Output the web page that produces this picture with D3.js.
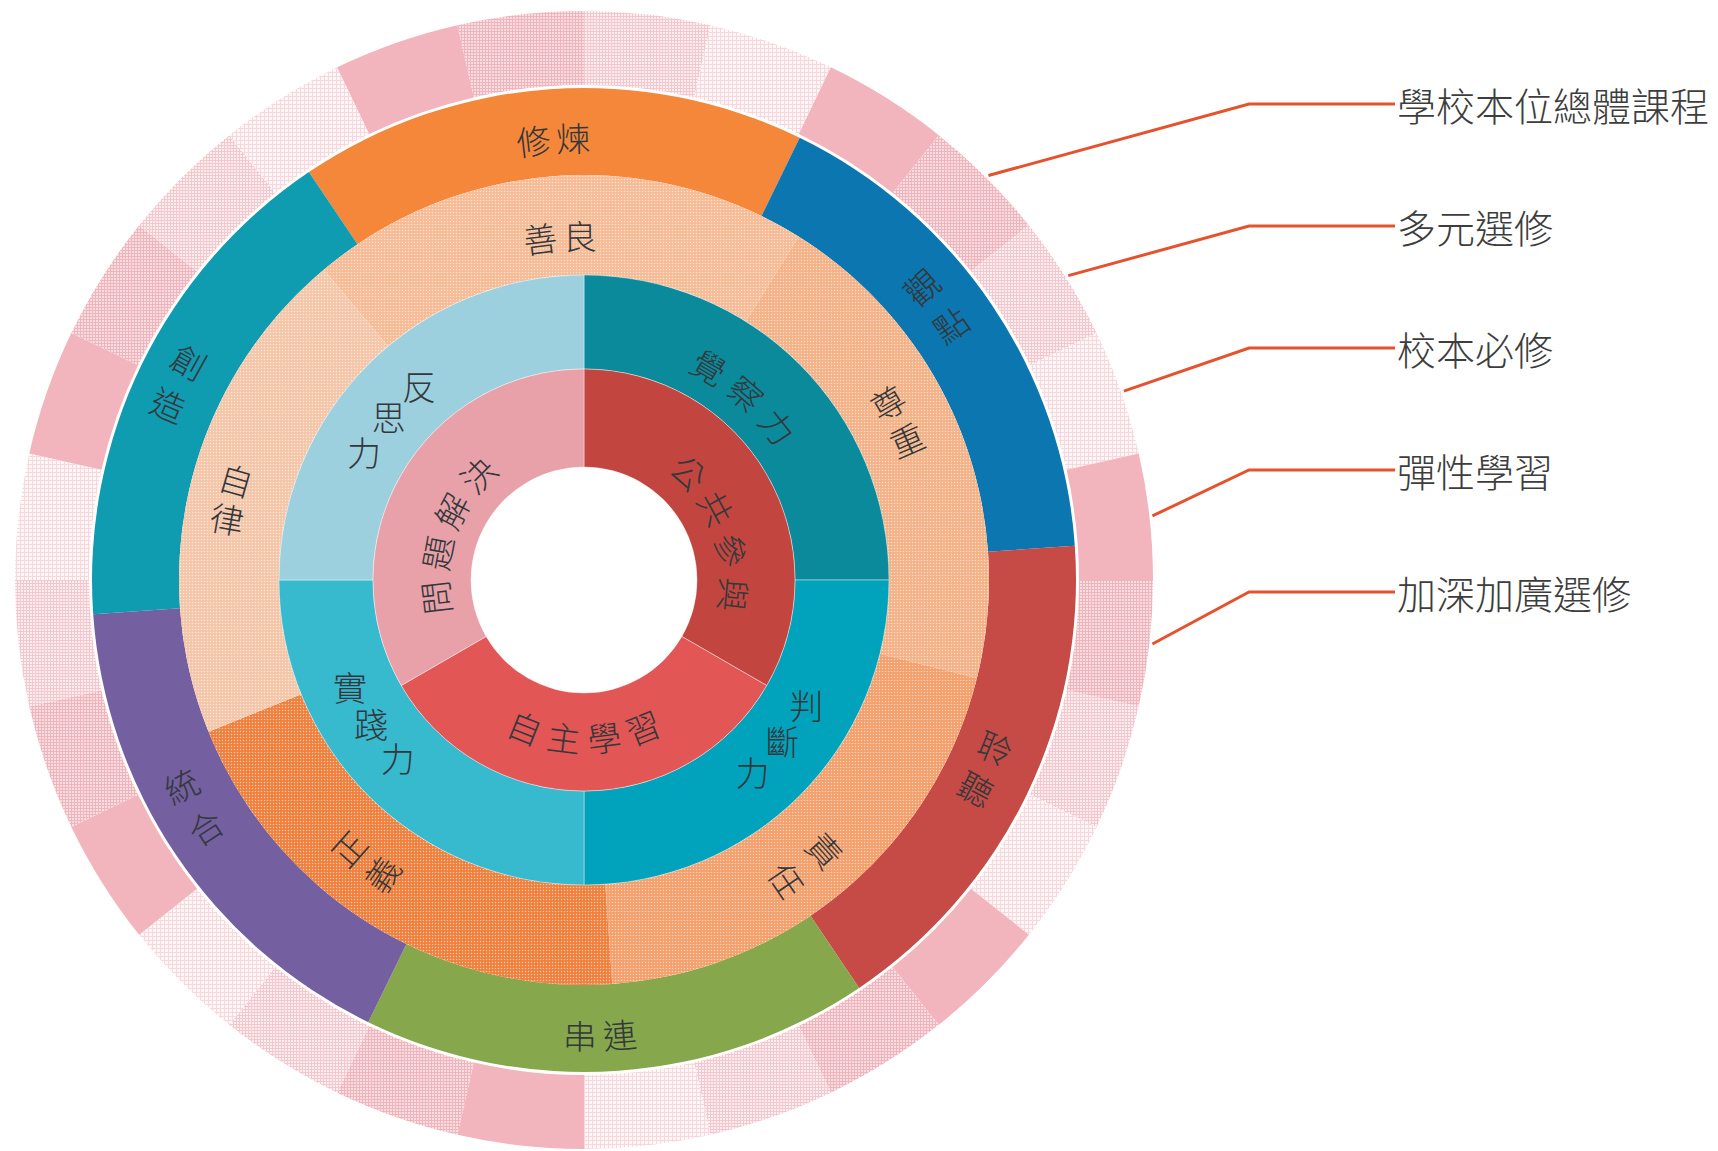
<!DOCTYPE html>
<html>
<head>
<meta charset="utf-8">
<script src="https://cdn.jsdelivr.net/npm/d3@7"></script>
<style>
  body { margin: 0; background: #fff; }
  svg { display: block; }
</style>
</head>
<body>
<div id="chart"></div>
<script>
// ---- data ----
const coreLabels = ['公共參與', '自主學習', '問題解決'];
const coreValues = [1, 1, 1];
const abilityLabels = ['覺察力', '判斷力', '實踐力', '反思力'];
const abilityValues = [1, 1, 1, 1];
const virtueLabels = ['善良', '尊重', '責任', '正義', '自律'];
const virtueValues = [1, 1, 1, 1, 1];
const actionLabels = ['修煉', '觀點', '聆聽', '串連', '統合', '創造'];
const actionValues = [1, 1, 1, 1, 1, 1];
// outer ring, 28 course blocks clockwise from 12 o'clock
const courseTypes = [
  'light', 'vlight', 'solid', 'medium', 'light', 'vlight', 'solid', 'medium',
  'light', 'vlight', 'solid', 'medium', 'light', 'vlight', 'solid', 'medium',
  'light', 'vlight', 'solid', 'medium', 'light', 'vlight', 'solid', 'medium',
  'light', 'vlight', 'solid', 'medium'
];
const legendLabels = ['學校本位總體課程', '多元選修', '校本必修', '彈性學習', '加深加廣選修'];
const legendSegments = [3, 4, 5, 6, 7];

// ---- layout / styles ----
const W = 1718, H = 1151;
const cx = 584, cy = 580;
const deg = Math.PI / 180;
const FONT = '"Noto Sans CJK TC Light", "Noto Sans CJK TC", "Noto Sans CJK SC", sans-serif';

const coreColors = ['#c2463f', '#e25656', '#e8a1a9'];
const abilityColors = ['#0b8a9c', '#00a3bb', '#37b9ce', '#9dd0de'];
const virtueColors = ['#f6bb95', '#f5b186', '#f49e69', '#f07f3b', '#f5c5a7'];
const actionColors = ['#f4873a', '#0b76b0', '#c64a45', '#86a74b', '#745fa0', '#0f9bb0'];

const labelStyle = {
  '公共參與': { mode: 'cw', shift: 10, r: 151, step: 45 },
  '自主學習': { mode: 'ccw', shift: 0, r: 158, step: 40 },
  '問題解決': { mode: 'cw', shift: -11, r: 150, step: 45 },
  '覺察力': { mode: 'cw', shift: -4, r: 248, step: 46 },
  '判斷力': { mode: 'upR', shift: -6, r: 255, step: 43 },
  '實踐力': { mode: 'upL', shift: 11, r: 257, step: 43 },
  '反思力': { mode: 'upL', shift: -5, r: 255, step: 43 },
  '善良': { mode: 'cw', shift: 0, r: 345, step: 40 },
  '尊重': { mode: 'stackR', shift: -5, r: 352, step: 42 },
  '責任': { mode: 'stackR', shift: 2, r: 362, step: 48 },
  '正義': { mode: 'stackL', shift: 6, r: 357, step: 42 },
  '自律': { mode: 'stackL', shift: -1, r: 362, step: 40 },
  '修煉': { mode: 'cw', shift: 0, r: 443, step: 40 },
  '觀點': { mode: 'stackR', shift: -4, r: 447, step: 48 },
  '聆聽': { mode: 'stackR', shift: -1, r: 444, step: 45 },
  '串連': { mode: 'ccw', shift: 2, r: 455, step: 40 },
  '統合': { mode: 'stackL', shift: 4, r: 452, step: 48 },
  '創造': { mode: 'stackL', shift: 0, r: 451, step: 48 },
};

const svg = d3.select('#chart')
  .append('svg')
    .attr('width', W)
    .attr('height', H);
const defs = svg.append('defs');

function gridPattern(id, bg, line, step) {
  const p = defs.append('pattern')
    .attr('id', id)
    .attr('patternUnits', 'userSpaceOnUse')
    .attr('width', step)
    .attr('height', step);
  p.append('rect').attr('width', step).attr('height', step).attr('fill', bg);
  p.append('path')
    .attr('d', `M0,0.5H${step}M0.5,0V${step}`)
    .attr('stroke', line)
    .attr('stroke-width', 1)
    .attr('fill', 'none');
}
function dotPattern(id, bg) {
  const p = defs.append('pattern')
    .attr('id', id)
    .attr('patternUnits', 'userSpaceOnUse')
    .attr('width', 3)
    .attr('height', 3);
  p.append('rect').attr('width', 3).attr('height', 3).attr('fill', bg);
  p.append('circle').attr('cx', 1.5).attr('cy', 1.5).attr('r', 0.75)
    .attr('fill', '#fff').attr('opacity', 0.6);
}

gridPattern('course-medium', '#f9dde1', '#eeb5bd', 3);
gridPattern('course-light', '#fdeef0', '#f2c8ce', 3);
gridPattern('course-vlight', '#fef6f7', '#f6d8dc', 4);
const courseFill = {
  solid: '#f2b4bd',
  medium: 'url(#course-medium)',
  light: 'url(#course-light)',
  vlight: 'url(#course-vlight)',
};
virtueColors.forEach((c, i) => dotPattern('virtue-' + i, c));

const body = svg.append('g')
  .attr('class', 'body')
  .attr('transform', `translate(${cx},${cy})`);

const rings = [
  { name: 'course', labels: courseTypes, values: courseTypes.map(() => 1), r0: 495, r1: 569, start: 0,
    fill: (d, i) => courseFill[courseTypes[i]], stroke: 'none' },
  { name: 'action', labels: actionLabels, values: actionValues, r0: 405, r1: 492, start: -34 * deg,
    fill: (d, i) => actionColors[i], stroke: 'none' },
  { name: 'virtue', labels: virtueLabels, values: virtueValues, r0: 305, r1: 405, start: -40 * deg,
    fill: (d, i) => `url(#virtue-${i})`, stroke: 'none' },
  { name: 'ability', labels: abilityLabels, values: abilityValues, r0: 211, r1: 305, start: 0,
    fill: (d, i) => abilityColors[i], stroke: 'rgba(255,255,255,0.5)' },
  { name: 'core', labels: coreLabels, values: coreValues, r0: 113, r1: 211, start: 0,
    fill: (d, i) => coreColors[i], stroke: 'rgba(255,255,255,0.5)' },
];

const ringArcs = {};
rings.forEach(ring => {
  const pie = d3.pie()
    .sort(null)
    .value(d => d)
    .startAngle(ring.start)
    .endAngle(ring.start + 2 * Math.PI);
  const arcs = pie(ring.values);
  ringArcs[ring.name] = arcs;
  const arc = d3.arc().innerRadius(ring.r0).outerRadius(ring.r1);
  body.append('g')
    .attr('class', 'ring ' + ring.name)
    .selectAll('path')
    .data(arcs)
    .enter()
      .append('path')
        .attr('d', arc)
        .attr('fill', ring.fill)
        .attr('stroke', ring.stroke)
        .attr('stroke-width', 0.8);
});

// ---- ring labels, one glyph at a time ----
const labelG = body.append('g').attr('class', 'labels');
function placeLabel(text, midDeg) {
  const s = labelStyle[text];
  const chars = Array.from(text);
  const n = chars.length;
  const stepDeg = s.step / s.r / deg;
  const dir = (s.mode === 'ccw' || s.mode === 'stackL' || s.mode === 'upL') ? -1 : 1;
  const centre = midDeg + s.shift;
  chars.forEach((ch, i) => {
    const t = centre + dir * (i - (n - 1) / 2) * stepDeg;
    const x = s.r * Math.sin(t * deg);
    const y = -s.r * Math.cos(t * deg);
    let rot = 0;
    if (s.mode === 'cw') rot = t;
    else if (s.mode === 'ccw') rot = t - 180;
    else if (s.mode === 'stackR') rot = t - 90;
    else if (s.mode === 'stackL') rot = t - 270;
    labelG.append('text')
      .attr('transform', `translate(${x},${y}) rotate(${rot})`)
      .attr('text-anchor', 'middle')
      .attr('dominant-baseline', 'central')
      .style('font-family', FONT)
      .style('font-size', '34px')
      .style('font-weight', 300)
      .style('fill', '#34383b')
      .text(ch);
  });
}
rings.filter(r => r.name !== 'course').forEach(ring => {
  ringArcs[ring.name].forEach((a, i) => {
    placeLabel(ring.labels[i], (a.startAngle + a.endAngle) / 2 / deg);
  });
});

// ---- legend with leader lines ----
const legendY = d3.scalePoint().domain(legendLabels).range([104, 592]);
const elbowX = 1249, textX = 1397;
const legend = svg.append('g').attr('class', 'legend');
legendLabels.forEach((lab, k) => {
  const a = ringArcs.course[legendSegments[k]];
  const m = (a.startAngle + a.endAngle) / 2;
  const r = 572;
  const x0 = cx + r * Math.sin(m), y0 = cy - r * Math.cos(m);
  const ly = legendY(lab);
  legend.append('path')
    .attr('d', d3.line()([[x0, y0], [elbowX, ly], [textX - 2, ly]]))
    .attr('fill', 'none')
    .attr('stroke', '#e4532d')
    .attr('stroke-width', 3);
  legend.append('text')
    .attr('x', textX)
    .attr('y', ly)
    .attr('dominant-baseline', 'central')
    .style('font-family', FONT)
    .style('font-size', '39px')
    .style('font-weight', 300)
    .style('fill', '#3d3d3d')
    .text(lab);
});
</script>
</body>
</html>
